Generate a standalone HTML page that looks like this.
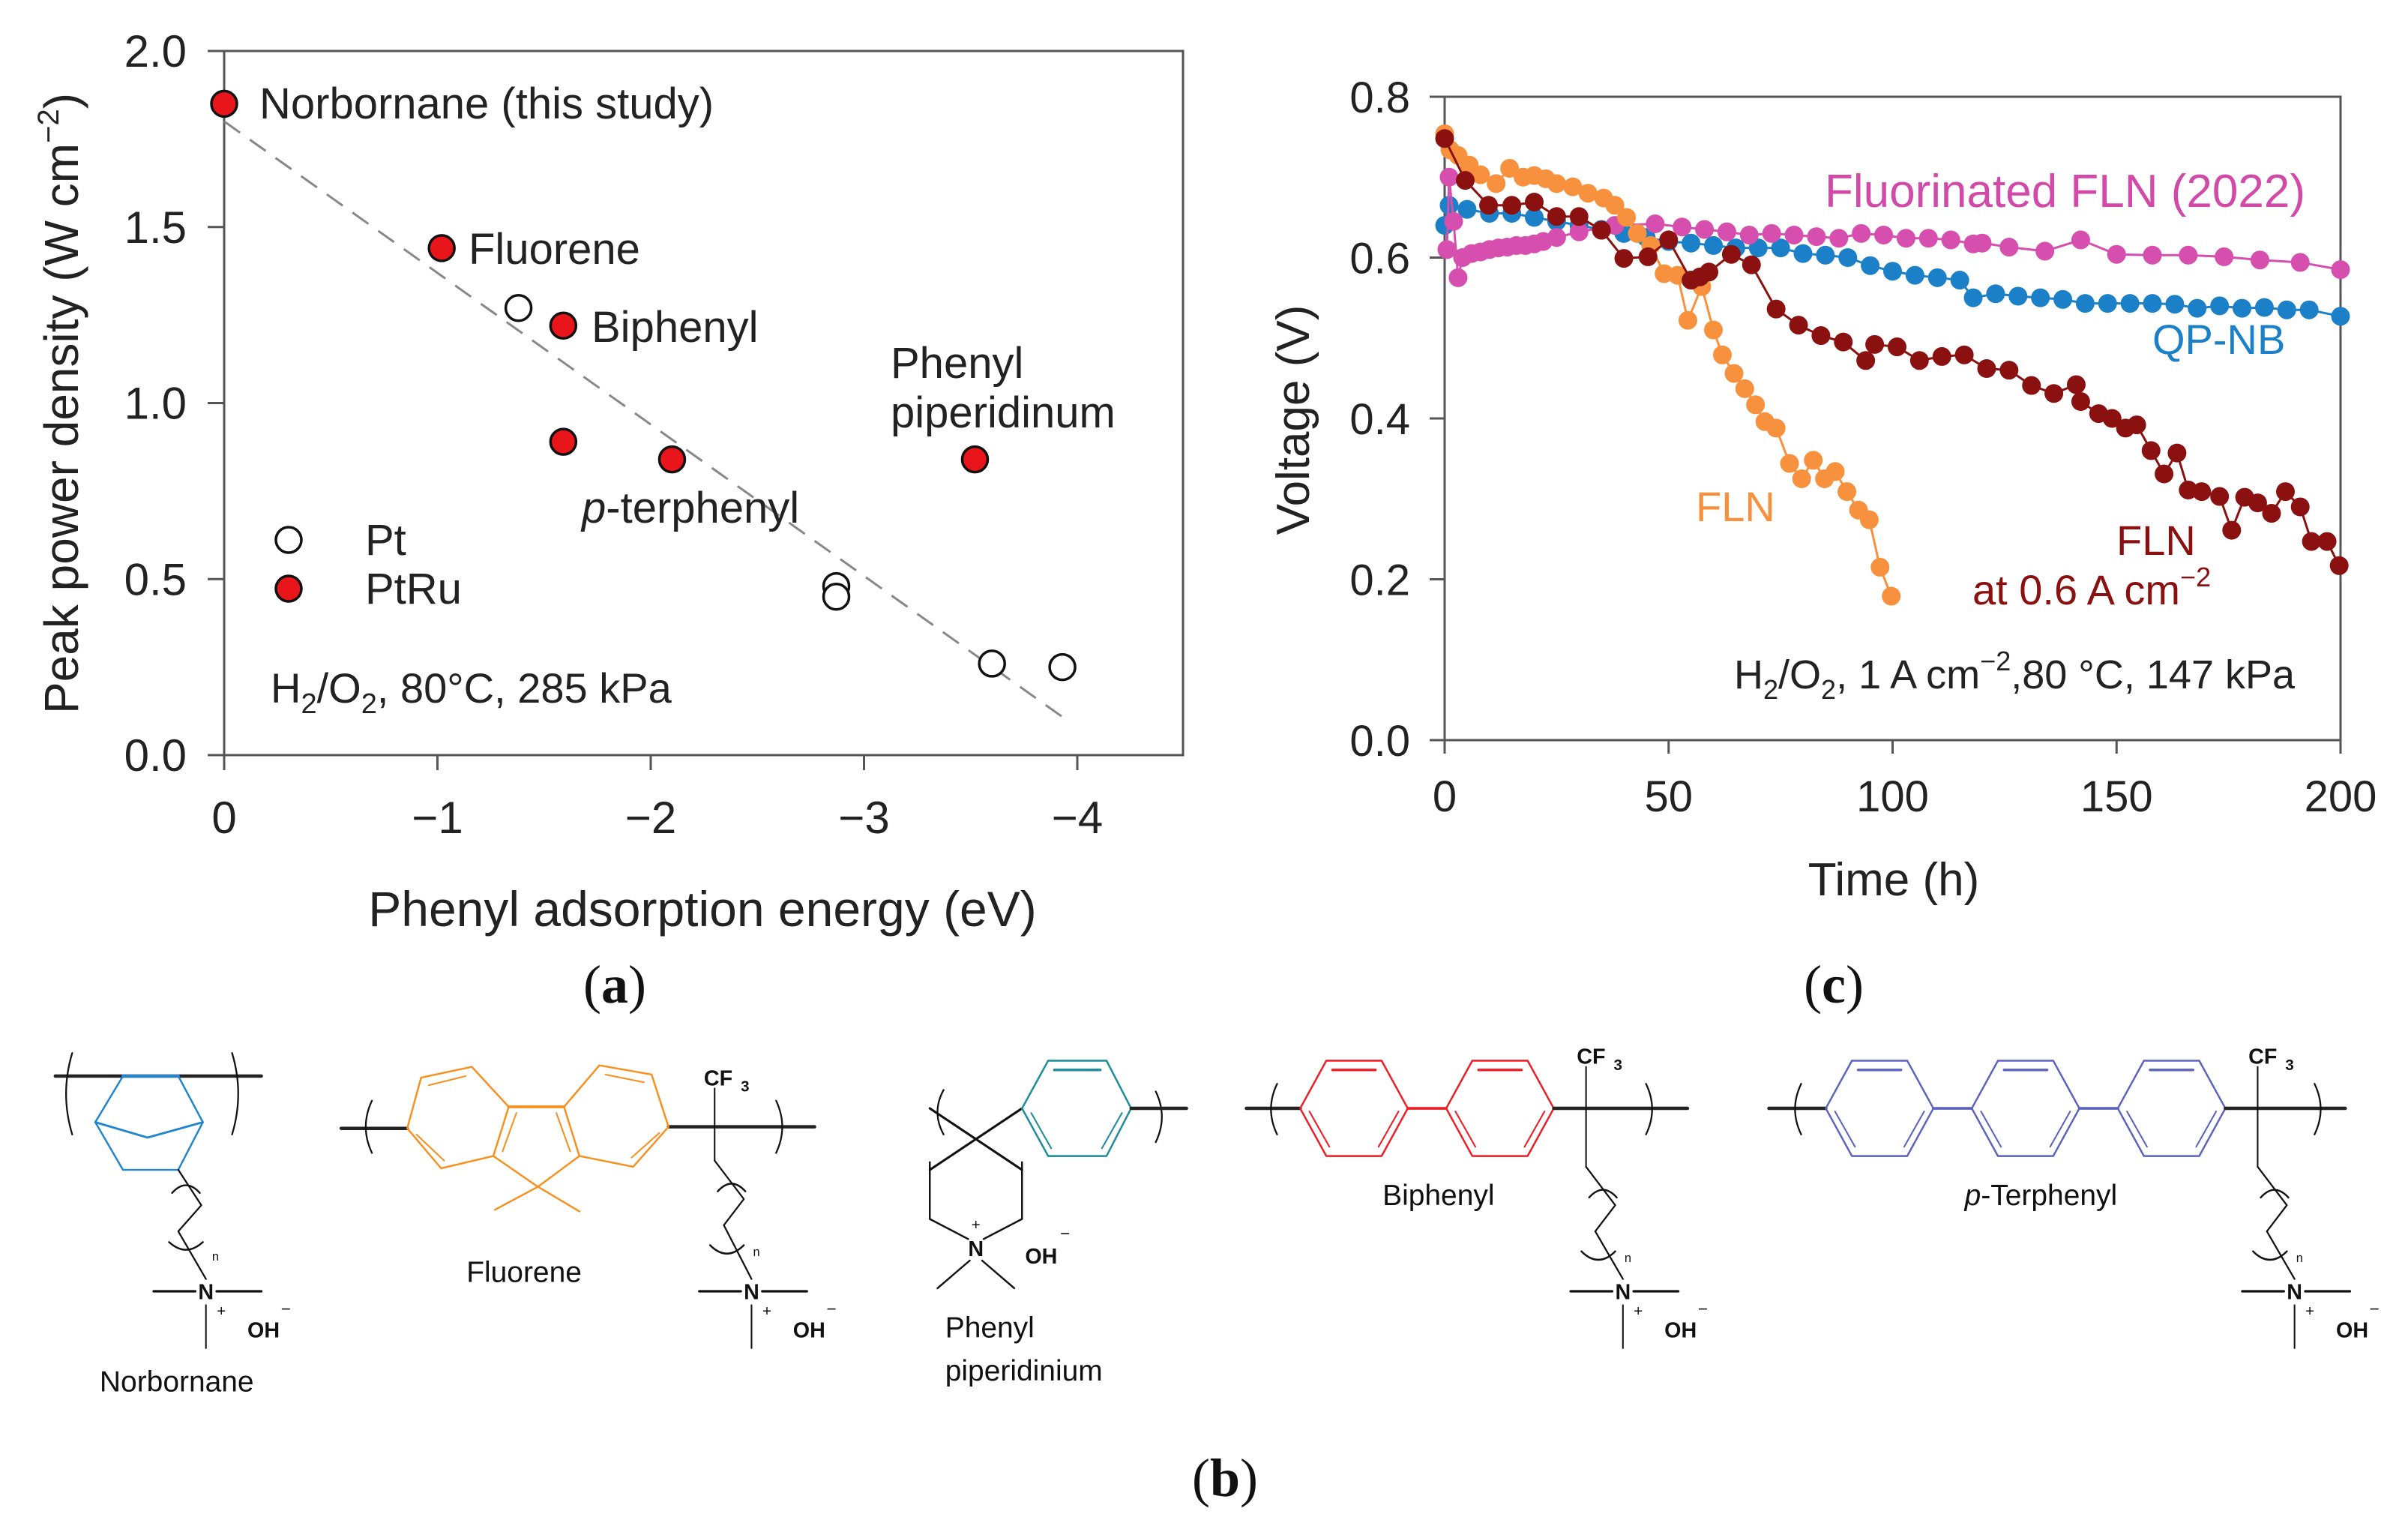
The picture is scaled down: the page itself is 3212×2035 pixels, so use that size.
<!DOCTYPE html>
<html><head><meta charset="utf-8">
<style>
html,body{margin:0;padding:0;background:#fff;}
svg{display:block;font-family:"Liberation Sans",Arial,sans-serif;}
</style></head>
<body>
<svg id="fig" width="3212" height="2035" viewBox="0 0 3212 2035" xmlns="http://www.w3.org/2000/svg">
<rect x="0" y="0" width="3212" height="2035" fill="#fff"/>

<!-- Panel A static -->
<g id="panelA">
  <rect x="299" y="68" width="1279" height="939" fill="none" stroke="#555" stroke-width="3"/>
  <g id="aYTicks"></g>
  <g id="aXTicks"></g>
  <line id="aFit" stroke="#888" stroke-width="3" stroke-dasharray="26,16"/>
  <g id="aPoints"></g>
  <text transform="translate(104,538) rotate(-90)" text-anchor="middle" font-size="64" fill="#222">Peak power density (W cm<tspan font-size="40" dy="-26">−2</tspan><tspan dy="26">)</tspan></text>
  <text x="937" y="1235" text-anchor="middle" font-size="66" fill="#222">Phenyl adsorption energy (eV)</text>
  <text x="346" y="158" font-size="58" fill="#222">Norbornane (this study)</text>
  <text x="625" y="352" font-size="58" fill="#222">Fluorene</text>
  <text x="789" y="456" font-size="58" fill="#222">Biphenyl</text>
  <text x="1188" y="504" font-size="58" fill="#222">Phenyl</text>
  <text x="1188" y="570" font-size="58" fill="#222">piperidinum</text>
  <text x="776" y="697" font-size="58" fill="#222"><tspan font-style="italic">p</tspan>-terphenyl</text>
  <g>
    <circle cx="385" cy="720" r="17" fill="#fff" stroke="#111" stroke-width="3.5"/>
    <text x="487" y="740" font-size="58" fill="#222">Pt</text>
  </g>
  <g>
    <circle cx="385" cy="785" r="17" fill="#e8151b" stroke="#111" stroke-width="3.5"/>
    <text x="487" y="805" font-size="58" fill="#222">PtRu</text>
  </g>
  <text x="361" y="937" font-size="56" fill="#222">H<tspan font-size="38" dy="14">2</tspan><tspan dy="-14">/O</tspan><tspan font-size="38" dy="14">2</tspan><tspan dy="-14">, 80°C, 285 kPa</tspan></text>
</g>

<!-- Panel C -->
<g id="panelC">
  <rect x="1927" y="129" width="1195" height="858" fill="none" stroke="#555" stroke-width="3"/>
  <g id="cYTicks"></g>
  <g id="cXTicks"></g>
  <g id="cSeries"></g>
  <text transform="translate(1746,560) rotate(-90)" text-anchor="middle" font-size="62" fill="#222">Voltage (V)</text>
  <text x="2526" y="1194" text-anchor="middle" font-size="62" fill="#222">Time (h)</text>
  <text x="2434" y="276" font-size="62" fill="#d24aa8">Fluorinated FLN (2022)</text>
  <text x="2871" y="472" font-size="56" fill="#1b80c8">QP-NB</text>
  <text x="2262" y="695" font-size="56" fill="#f7913d">FLN</text>
  <text x="2823" y="740" font-size="56" fill="#8b1010">FLN</text>
  <text x="2631" y="806" font-size="56" fill="#8b1010">at 0.6 A cm<tspan font-size="36" dy="-24">−2</tspan></text>
  <text x="2313" y="918" font-size="54" fill="#222">H<tspan font-size="36" dy="14">2</tspan><tspan dy="-14">/O</tspan><tspan font-size="36" dy="14">2</tspan><tspan dy="-14">, 1 A cm</tspan><tspan font-size="36" dy="-24">−2</tspan><tspan dy="24">,80 °C, 147 kPa</tspan></text>
</g>

<!-- Panel labels -->
<text x="820" y="1337" text-anchor="middle" font-size="72" font-family="Liberation Serif, serif" fill="#111">(<tspan font-weight="bold">a</tspan>)</text>
<text x="2446" y="1337" text-anchor="middle" font-size="72" font-family="Liberation Serif, serif" fill="#111">(<tspan font-weight="bold">c</tspan>)</text>
<text x="1634" y="1995" text-anchor="middle" font-size="72" font-family="Liberation Serif, serif" fill="#111">(<tspan font-weight="bold">b</tspan>)</text>

<!-- Panel B structures (drawn in half-scale coordinates) -->
<g id="panelB" transform="scale(2.05)" fill="none" stroke-linecap="round" stroke-linejoin="round"></g>
</svg>

<script>
// ---------- Panel A data ----------
const aPtRuX = [0, -1.02, -1.59, -1.59, -2.10, -3.52];
const aPtRuY = [1.85, 1.44, 1.22, 0.89, 0.84, 0.84];
const aPtX = [-1.38, -2.87, -2.87, -3.60, -3.93];
const aPtY = [1.27, 0.48, 0.45, 0.26, 0.25];
const aFitX = [0, -3.95];
const aFitY = [1.80, 0.10];
const aYTickVals = [0, 0.5, 1.0, 1.5, 2.0];
const aYTickLabels = ["0.0", "0.5", "1.0", "1.5", "2.0"];
const aXTickVals = [0, -1, -2, -3, -4];
const aXTickLabels = ["0", "−1", "−2", "−3", "−4"];

// ---------- Panel C data ----------
const cPinkT = [0.5,1,2,3,4,6,8,10,12,14,16,18,20,22,25,30,38,47,53,58,63,68,73,78,83,88,93,98,103,108,113,118,120,126,134,142,150,158,166,174,182,191,200];
const cPinkV = [0.61,0.70,0.645,0.575,0.60,0.605,0.607,0.61,0.612,0.613,0.615,0.615,0.617,0.62,0.625,0.632,0.64,0.642,0.638,0.635,0.632,0.628,0.63,0.628,0.626,0.624,0.63,0.628,0.624,0.624,0.622,0.617,0.618,0.613,0.608,0.622,0.604,0.603,0.603,0.601,0.597,0.594,0.585];
const cBlueT = [0,1,5,10,15,20,25,30,35,40,45,50,55,60,65,70,75,80,85,90,95,100,105,110,115,118,123,128,133,138,143,148,153,158,163,168,173,178,183,188,193,200];
const cBlueV = [0.64,0.665,0.66,0.655,0.655,0.65,0.645,0.64,0.635,0.63,0.625,0.62,0.618,0.615,0.612,0.612,0.612,0.605,0.603,0.60,0.59,0.583,0.578,0.575,0.572,0.55,0.555,0.552,0.55,0.548,0.543,0.543,0.543,0.543,0.542,0.537,0.54,0.537,0.538,0.535,0.535,0.527];
const cOrangeT = [0,1.2,3,5.5,8,11.5,14.5,17.5,20,22.6,25,28.6,32,35.5,38,40.6,43,46,49,52,54.3,57.4,60,62,64.6,67,69.4,71.5,74,77,79.7,82.3,84.8,87.2,89.8,92.4,94.8,97.2,99.7];
const cOrangeV = [0.754,0.734,0.727,0.715,0.703,0.692,0.711,0.70,0.702,0.698,0.692,0.688,0.68,0.674,0.665,0.65,0.63,0.615,0.58,0.578,0.522,0.564,0.51,0.479,0.456,0.437,0.417,0.396,0.388,0.344,0.325,0.348,0.325,0.334,0.309,0.286,0.274,0.215,0.179];
const cRedT = [0,4.6,9.8,15,20,25,30,35,40,45.4,50,55,57,59,64,68.5,74,79,84,89,94,96,101,106,111,116,121,126,131,136,141,142,146,149,152,154.5,157.7,160.6,163.5,166,169,173,175.7,178.6,181.5,184.6,187.7,191,193.5,197,199.7];
const cRedV = [0.748,0.696,0.665,0.665,0.669,0.651,0.651,0.634,0.599,0.601,0.622,0.572,0.576,0.582,0.604,0.591,0.536,0.516,0.503,0.495,0.472,0.492,0.489,0.472,0.477,0.479,0.462,0.46,0.441,0.431,0.442,0.421,0.406,0.40,0.388,0.392,0.36,0.331,0.357,0.311,0.309,0.303,0.261,0.302,0.295,0.282,0.309,0.29,0.247,0.247,0.217];
const cYTickVals = [0, 0.2, 0.4, 0.6, 0.8];
const cYTickLabels = ["0.0", "0.2", "0.4", "0.6", "0.8"];
const cXTickVals = [0, 50, 100, 150, 200];
const cXTickLabels = ["0", "50", "100", "150", "200"];

const NS = "http://www.w3.org/2000/svg";
function mk(tag, attrs, parent) {
  const e = document.createElementNS(NS, tag);
  for (const k in attrs) e.setAttribute(k, attrs[k]);
  if (parent) parent.appendChild(e);
  return e;
}
const xA = v => 299 - v * 284.5;
const yA = v => 1007 - v * 469.5;
const xC = t => 1927 + t * 5.975;
const yC = v => 987 - v * 1072.5;

// Panel A ticks
const aYT = document.getElementById('aYTicks');
aYTickVals.forEach((v, i) => {
  const l = mk('line', {x1: 277, x2: 299, y1: yA(v), y2: yA(v), stroke: '#555', 'stroke-width': 3}, aYT);
  
  
  const t = mk('text', {x: 249, y: yA(v) + 21, 'text-anchor': 'end', 'font-size': 60, fill: '#222'}, aYT);
  t.textContent = aYTickLabels[i];
  
  
});
const aXT = document.getElementById('aXTicks');
aXTickVals.forEach((v, i) => {
  const l = mk('line', {x1: xA(v), x2: xA(v), y1: 1007, y2: 1027, stroke: '#555', 'stroke-width': 3}, aXT);
  
  
  const t = mk('text', {x: xA(v), y: 1111, 'text-anchor': 'middle', 'font-size': 60, fill: '#222'}, aXT);
  t.textContent = aXTickLabels[i];
  
  
});
const fit = document.getElementById('aFit');
fit.setAttribute('x1', xA(aFitX[0])); fit.setAttribute('y1', yA(aFitY[0]));
fit.setAttribute('x2', xA(aFitX[1])); fit.setAttribute('y2', yA(aFitY[1]));
const aP = document.getElementById('aPoints');
aPtX.forEach((x, i) => {
  const c = mk('circle', {cx: xA(x), cy: yA(aPtY[i]), r: 17, fill: '#fff', stroke: '#111', 'stroke-width': 3.5}, aP);
  
  
});
aPtRuX.forEach((x, i) => {
  const c = mk('circle', {cx: xA(x), cy: yA(aPtRuY[i]), r: 17, fill: '#e8151b', stroke: '#111', 'stroke-width': 3.5}, aP);
  
  
});

// Panel C ticks
const cYT = document.getElementById('cYTicks');
cYTickVals.forEach((v, i) => {
  const l = mk('line', {x1: 1907, x2: 1927, y1: yC(v), y2: yC(v), stroke: '#555', 'stroke-width': 3}, cYT);
  
  
  const t = mk('text', {x: 1881, y: yC(v) + 21, 'text-anchor': 'end', 'font-size': 58, fill: '#222'}, cYT);
  t.textContent = cYTickLabels[i];
  
  
});
const cXT = document.getElementById('cXTicks');
cXTickVals.forEach((v, i) => {
  const l = mk('line', {x1: xC(v), x2: xC(v), y1: 987, y2: 1005, stroke: '#555', 'stroke-width': 3}, cXT);
  
  
  const t = mk('text', {x: xC(v), y: 1082, 'text-anchor': 'middle', 'font-size': 58, fill: '#222'}, cXT);
  t.textContent = cXTickLabels[i];
  
  
});

const cS = document.getElementById('cSeries');
function series(T, V, color, name) {
  const g = mk('g', {}, cS);
  
  
  const pts = T.map((t, i) => xC(t) + ',' + yC(V[i])).join(' ');
  const pl = mk('polyline', {points: pts, fill: 'none', stroke: color, 'stroke-width': 3}, g);
  
  
  T.forEach((t, i) => {
    const c = mk('circle', {cx: xC(t), cy: yC(V[i]), r: 12.5, fill: color}, g);
    
    
  });
}
series(cBlueT, cBlueV, '#1b80c8', 'qp-nb-series');
series(cPinkT, cPinkV, '#d64fae', 'fluorinated-fln-series');
series(cOrangeT, cOrangeV, '#f7913d', 'fln-series');
series(cRedT, cRedV, '#8b1010', 'fln-0p6-series');

// ---------- Panel B structures ----------
const B = document.getElementById('panelB');
function ln(x1, y1, x2, y2, col, w, p) {
  return mk('line', {x1, y1, x2, y2, stroke: col, 'stroke-width': w || 1.2}, p || B);
}
function pl(pts, col, w, p) {
  return mk('polyline', {points: pts.map(q => q.join(',')).join(' '), stroke: col, 'stroke-width': w || 1.2, fill: 'none'}, p || B);
}
function txt(x, y, s, size, p, anchor, extra) {
  const t = mk('text', Object.assign({x, y, 'font-size': size, fill: '#111', stroke: 'none', 'text-anchor': anchor || 'start'}, extra || {}), p || B);
  t.textContent = s;
  return t;
}
function bracket(x, y1, y2, dir, p) {
  const bulge = dir * 4;
  mk('path', {d: `M${x},${y1} Q${x + bulge * 2},${(y1 + y2) / 2} ${x},${y2}`, stroke: '#111', 'stroke-width': 1.1, fill: 'none'}, p || B);
}
function ring(x0, col, p) {
  const y = 721;
  pl([[x0, y], [x0 + 17, y - 31], [x0 + 53, y - 31], [x0 + 70, y], [x0 + 53, y + 31], [x0 + 17, y + 31], [x0, y]], col, 1.2, p);
  ln(x0 + 21, y - 25, x0 + 49, y - 25, col, 1.6, p);
  ln(x0 + 6, y + 2, x0 + 19, y + 25, col, 1, p);
  ln(x0 + 64, y + 2, x0 + 51, y + 25, col, 1, p);
}
function chain(x, yTop, p) {
  pl([[x, yTop], [x + 19, yTop + 25], [x + 6, yTop + 42], [x + 24, 832]], '#111', 1.1, p);
  mk('path', {d: `M${x + 2},${yTop + 20} Q${x + 11},${yTop + 10} ${x + 20},${yTop + 20}`, stroke: '#111', 'stroke-width': 1.2, fill: 'none'}, p);
  mk('path', {d: `M${x - 3},${yTop + 55} Q${x + 8},${yTop + 66} ${x + 19},${yTop + 55}`, stroke: '#111', 'stroke-width': 1.2, fill: 'none'}, p);
  txt(x + 25, yTop + 62, 'n', 8, p);
  ammonium(x + 24, 840, p);
}
function ammonium(x, y, p) {
  ln(x - 34, y, x - 7, y, '#111', 1.6, p);
  ln(x + 7, y, x + 36, y, '#111', 1.6, p);
  txt(x, y + 5, 'N', 14, p, 'middle', {'font-weight': 'bold'});
  ln(x, y + 9, x, y + 37, '#111', 1, p);
  txt(x + 10, y + 16, '+', 10, p, 'middle');
  txt(x + 27, y + 30, 'OH', 14, p, 'start', {'font-weight': 'bold'});
  txt(x + 52, y + 15, '−', 11, p, 'middle');
}

// Norbornane
const gN = mk('g', {}, B);


ln(36, 700, 170, 700, '#222', 2.2, gN);
bracket(47, 685, 738, -1, gN);
bracket(151, 685, 738, 1, gN);
const blue = '#2185cf';
ln(80, 700, 116, 700, blue, 2, gN);
pl([[80, 700], [62, 730], [80, 761], [116, 761], [132, 730], [116, 700]], blue, 1.2, gN);
pl([[62, 730], [96, 740], [132, 730]], blue, 1.4, gN);
pl([[116, 761], [131, 784], [116, 801], [134, 832]], '#111', 1.1, gN);
mk('path', {d: 'M112,776 Q121,766 130,776', stroke: '#111', 'stroke-width': 1.2, fill: 'none'}, gN);
mk('path', {d: 'M110,808 Q121,818 132,808', stroke: '#111', 'stroke-width': 1.2, fill: 'none'}, gN);
txt(138, 820, 'n', 8, gN);
ammonium(134, 840, gN);
txt(115, 905, 'Norbornane', 19, gN, 'middle');

// Fluorene
const gF = mk('g', {}, B);


const org = '#f7901e';
ln(222, 734, 265, 734, '#222', 2.2, gF);
ln(435, 733, 530, 733, '#222', 2.2, gF);
bracket(242, 716, 750, -1, gF);
bracket(505, 716, 750, 1, gF);
pl([[265, 734], [274, 701], [307, 694], [331, 720], [321, 752], [287, 760], [265, 734]], org, 1.2, gF);
pl([[367, 720], [390, 693], [424, 699], [435, 733], [412, 759], [377, 752], [367, 720]], org, 1.2, gF);
ln(331, 720, 367, 720, org, 1.8, gF);
ln(279, 706, 303, 700, org, 1, gF);
ln(394, 699, 419, 704, org, 1, gF);
ln(271, 738, 289, 755, org, 1, gF);
ln(429, 737, 411, 753, org, 1, gF);
ln(336, 724, 327, 749, org, 1, gF);
ln(362, 724, 371, 749, org, 1, gF);
pl([[321, 752], [350, 772], [377, 752]], org, 1.2, gF);
ln(350, 772, 322, 787, org, 1.2, gF);
ln(350, 772, 377, 788, org, 1.2, gF);
txt(341, 834, 'Fluorene', 19, gF, 'middle');
ln(465, 708, 465, 755, '#111', 1, gF);
txt(458, 706, 'CF', 14, gF, 'start', {'font-weight': 'bold'});
txt(482, 710, '3', 10, gF, 'start', {'font-weight': 'bold'});
chain(465, 755, gF);

// Phenyl piperidinium
const gP = mk('g', {}, B);


const teal = '#1a8c9a';
ln(605, 721, 665, 761, '#111', 1.5, gP);
ln(665, 721, 605, 761, '#111', 1.5, gP);
bracket(614, 709, 738, -1, gP);
bracket(752, 710, 743, 1, gP);
pl([[605, 756], [605, 793], [630, 806]], '#111', 1.2, gP);
pl([[665, 756], [665, 793], [640, 806]], '#111', 1.2, gP);
txt(635, 817, 'N', 14, gP, 'middle', {'font-weight': 'bold'});
txt(635, 800, '+', 10, gP, 'middle');
ln(631, 820, 610, 838, '#111', 1.2, gP);
ln(639, 820, 660, 838, '#111', 1.2, gP);
txt(667, 822, 'OH', 14, gP, 'start', {'font-weight': 'bold'});
txt(693, 806, '−', 11, gP, 'middle');
pl([[665, 721], [682, 690], [720, 690], [736, 721], [720, 752], [682, 752], [665, 721]], teal, 1.2, gP);
ln(686, 696, 716, 696, teal, 1.6, gP);
ln(671, 724, 684, 747, teal, 1, gP);
ln(730, 724, 717, 747, teal, 1, gP);
ln(736, 721, 772, 721, '#222', 2.2, gP);
txt(615, 870, 'Phenyl', 19, gP);
txt(615, 898, 'piperidinium', 19, gP);

// Biphenyl
const gBi = mk('g', {}, B);


const red = '#ee1c24';
ln(811, 721, 846, 721, '#222', 2.2, gBi);
ring(846, red, gBi);
ln(916, 721, 941, 721, red, 1.8, gBi);
ring(941, red, gBi);
ln(1011, 721, 1098, 721, '#222', 2.2, gBi);
bracket(831, 705, 738, -1, gBi);
bracket(1071, 705, 738, 1, gBi);
ln(1032, 694, 1032, 759, '#111', 1, gBi);
txt(1026, 692, 'CF', 14, gBi, 'start', {'font-weight': 'bold'});
txt(1050, 696, '3', 10, gBi, 'start', {'font-weight': 'bold'});
txt(936, 784, 'Biphenyl', 19, gBi, 'middle');
chain(1032, 759, gBi);

// p-Terphenyl
const gT = mk('g', {}, B);


const purp = '#5b62bf';
ln(1151, 721, 1188, 721, '#222', 2.2, gT);
ring(1188, purp, gT);
ln(1258, 721, 1283, 721, purp, 1.8, gT);
ring(1283, purp, gT);
ln(1353, 721, 1378, 721, purp, 1.8, gT);
ring(1378, purp, gT);
ln(1448, 721, 1526, 721, '#222', 2.2, gT);
bracket(1172, 705, 738, -1, gT);
bracket(1506, 705, 738, 1, gT);
ln(1469, 694, 1469, 759, '#111', 1, gT);
txt(1463, 692, 'CF', 14, gT, 'start', {'font-weight': 'bold'});
txt(1487, 696, '3', 10, gT, 'start', {'font-weight': 'bold'});
const pt = txt(1328, 784, '', 19, gT, 'middle');
pt.innerHTML = '<tspan font-style="italic">p</tspan>-Terphenyl';
chain(1469, 759, gT);
</script>
</body></html>
